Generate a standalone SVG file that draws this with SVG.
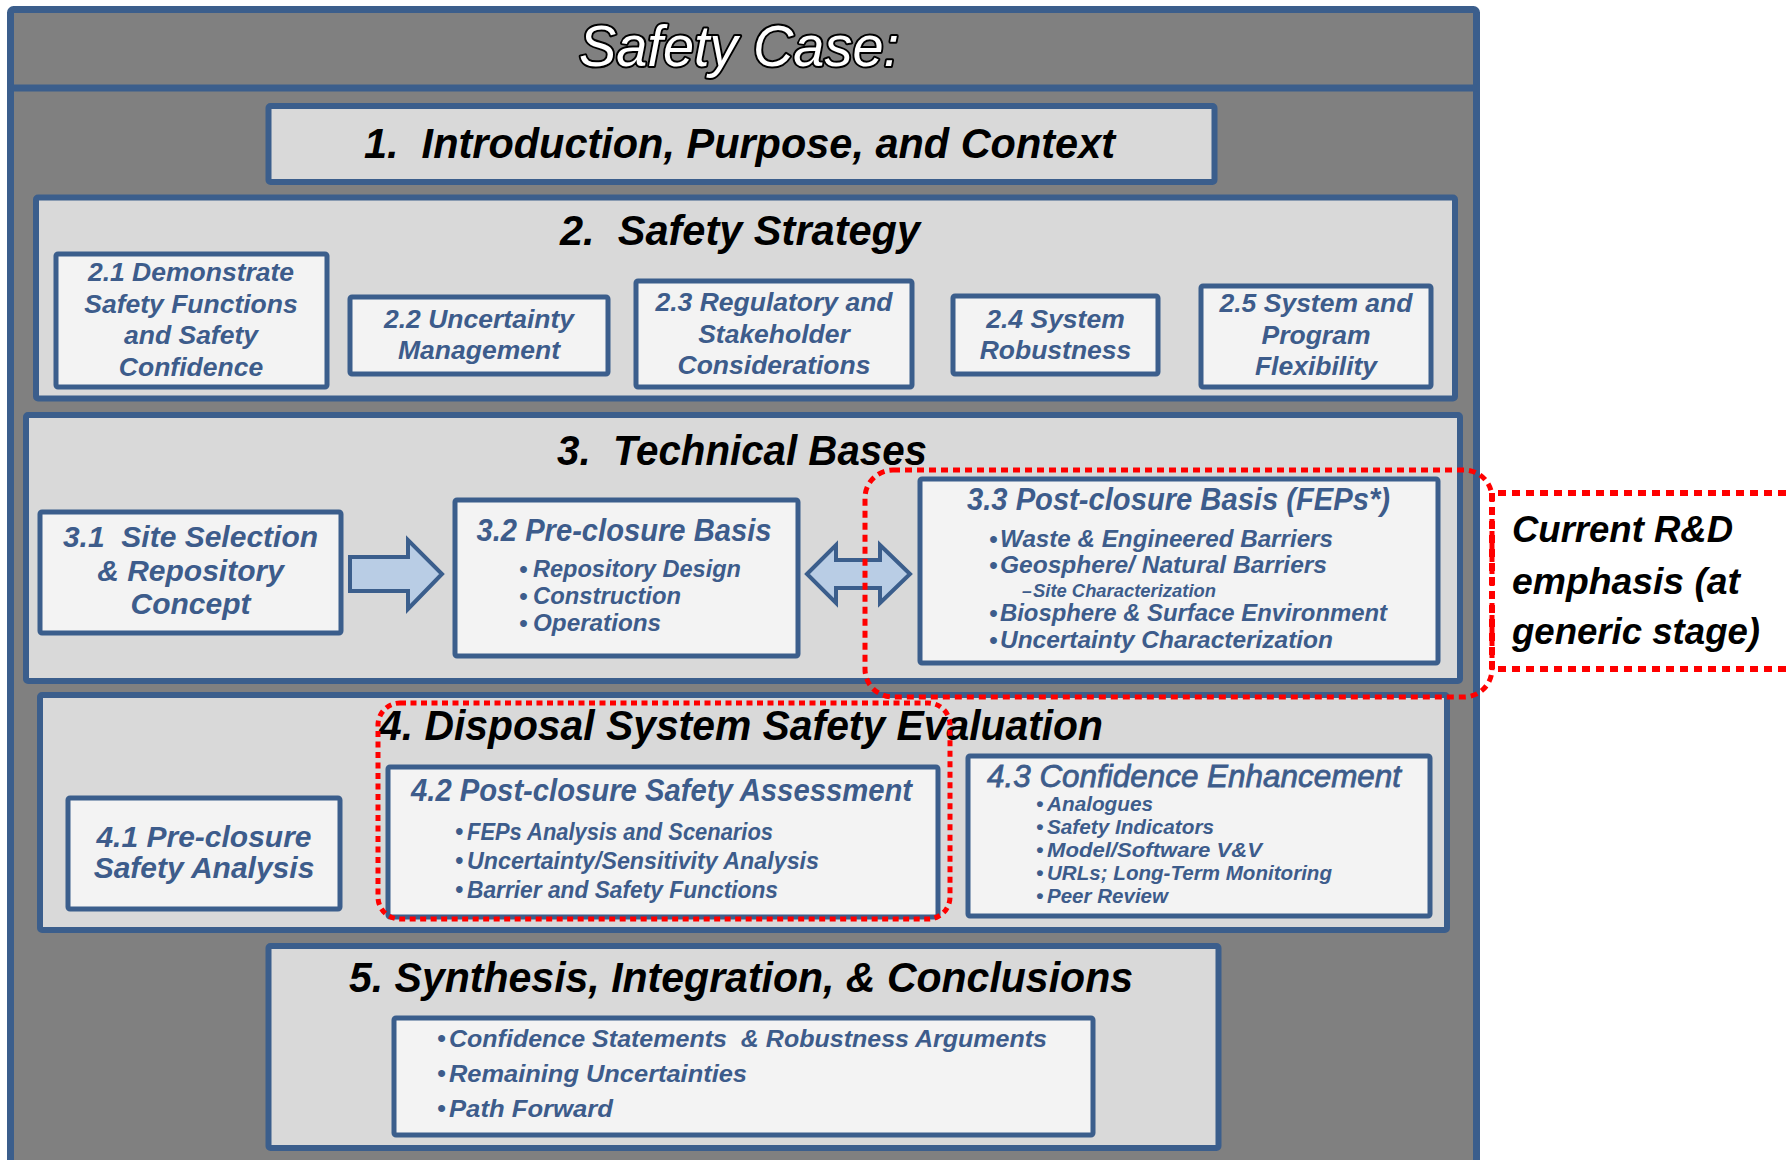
<svg xmlns="http://www.w3.org/2000/svg" width="1791" height="1160" viewBox="0 0 1791 1160">
<style>
.frame{fill:#808080;stroke:#3B5E8C;stroke-width:7}
.sec{fill:#D9D9D9;stroke:#3B5E8C;stroke-width:6}
.box{fill:#F3F3F3;stroke:#3B5E8C;stroke-width:5}
.h{font-family:"Liberation Sans",Arial,sans-serif;font-weight:bold;font-style:italic;fill:#000;font-size:43px}
.b{font-family:"Liberation Sans",Arial,sans-serif;font-weight:bold;font-style:italic;fill:#3D5C8B}
.s26{font-size:26.5px;text-anchor:middle}
.arrow{fill:#B9CDE5;stroke:#3B5E8C;stroke-width:4;stroke-linejoin:miter}
.red{fill:none;stroke:#FF0000;stroke-width:5;stroke-dasharray:7 5}
</style>
<rect x="0" y="0" width="1791" height="1160" fill="#FFFFFF"/>

<g id="frame">
  <rect class="frame" x="10.5" y="9.5" width="1466" height="1170" rx="3"/>
  <line x1="10.5" y1="88" x2="1476.5" y2="88" stroke="#3B5E8C" stroke-width="7"/>
  <text x="579" y="66" textLength="320" lengthAdjust="spacingAndGlyphs" font-family="Liberation Sans, Arial, sans-serif" font-style="italic" font-size="58" fill="#FFFFFF" stroke="#000" stroke-width="4" stroke-linejoin="round" paint-order="stroke">Safety Case:</text>
</g>

<g id="s1">
  <rect class="sec" x="268.5" y="106" width="946" height="76" rx="2"/>
  <text class="h" x="364" y="158" font-size="45" textLength="751" lengthAdjust="spacingAndGlyphs" xml:space="preserve">1.  Introduction, Purpose, and Context</text>
</g>

<g id="s2">
  <rect class="sec" x="36" y="197.5" width="1419" height="201" rx="2"/>
  <text class="h" x="560" y="245" textLength="360" lengthAdjust="spacingAndGlyphs" xml:space="preserve">2.  Safety Strategy</text>
</g>
<g id="n21">
  <rect class="box" x="56" y="254" width="271" height="133" rx="2"/>
  <text class="b s26" x="191" y="281">2.1 Demonstrate</text>
  <text class="b s26" x="191" y="312.5">Safety Functions</text>
  <text class="b s26" x="191" y="344">and Safety</text>
  <text class="b s26" x="191" y="375.5">Confidence</text>
</g>
<g id="n22">
  <rect class="box" x="350" y="297" width="258" height="77" rx="2"/>
  <text class="b s26" x="479" y="328">2.2 Uncertainty</text>
  <text class="b s26" x="479" y="359">Management</text>
</g>
<g id="n23">
  <rect class="box" x="636" y="281" width="276" height="106" rx="2"/>
  <text class="b s26" x="774" y="311">2.3 Regulatory and</text>
  <text class="b s26" x="774" y="342.5">Stakeholder</text>
  <text class="b s26" x="774" y="374">Considerations</text>
</g>
<g id="n24">
  <rect class="box" x="953" y="296" width="205" height="78" rx="2"/>
  <text class="b s26" x="1055.5" y="328">2.4 System</text>
  <text class="b s26" x="1055.5" y="359">Robustness</text>
</g>
<g id="n25">
  <rect class="box" x="1201" y="286" width="230" height="101" rx="2"/>
  <text class="b s26" x="1316" y="312">2.5 System and</text>
  <text class="b s26" x="1316" y="343.5">Program</text>
  <text class="b s26" x="1316" y="375">Flexibility</text>
</g>

<g id="s3">
  <rect class="sec" x="26" y="415" width="1434" height="266" rx="2"/>
  <text class="h" x="557" y="465" textLength="370" lengthAdjust="spacingAndGlyphs" xml:space="preserve">3.  Technical Bases</text>
</g>
<g id="n31">
  <rect class="box" x="40" y="512" width="301" height="121" rx="2"/>
  <text class="b" font-size="30" text-anchor="middle" x="190.5" y="547" xml:space="preserve">3.1  Site Selection</text>
  <text class="b" font-size="30" text-anchor="middle" x="190.5" y="581">&amp; Repository</text>
  <text class="b" font-size="30" text-anchor="middle" x="190.5" y="614">Concept</text>
</g>
<g id="n32">
  <rect class="box" x="455" y="500" width="343" height="156" rx="2"/>
  <text class="b" font-size="30.5" x="476.5" y="541" textLength="295" lengthAdjust="spacingAndGlyphs">3.2 Pre-closure Basis</text>
  <g class="b" font-size="24">
    <text x="519" y="577">•</text><text x="533" y="577" textLength="208" lengthAdjust="spacingAndGlyphs">Repository Design</text>
    <text x="519" y="604">•</text><text x="533" y="604" textLength="148" lengthAdjust="spacingAndGlyphs">Construction</text>
    <text x="519" y="631">•</text><text x="533" y="631" textLength="128" lengthAdjust="spacingAndGlyphs">Operations</text>
  </g>
</g>
<g id="n33">
  <rect class="box" x="920" y="479" width="518" height="184" rx="2"/>
  <text class="b" font-size="30.5" x="967" y="510" textLength="423" lengthAdjust="spacingAndGlyphs">3.3 Post-closure Basis (FEPs*)</text>
  <g class="b" font-size="24">
    <text x="989" y="547">•</text><text x="1000" y="547" textLength="333" lengthAdjust="spacingAndGlyphs">Waste &amp; Engineered Barriers</text>
    <text x="989" y="573">•</text><text x="1000" y="573" textLength="327" lengthAdjust="spacingAndGlyphs">Geosphere/ Natural Barriers</text>
    <text x="1022" y="596.5" font-size="17.5">–</text><text x="1033" y="596.5" font-size="17.5" textLength="183" lengthAdjust="spacingAndGlyphs">Site Characterization</text>
    <text x="989" y="620.5">•</text><text x="1000" y="620.5" textLength="387" lengthAdjust="spacingAndGlyphs">Biosphere &amp; Surface Environment</text>
    <text x="989" y="647.5">•</text><text x="1000" y="647.5" textLength="333" lengthAdjust="spacingAndGlyphs">Uncertainty Characterization</text>
  </g>
</g>

<g id="s4">
  <rect class="sec" x="40" y="695" width="1407" height="235" rx="2"/>
  <text class="h" x="379" y="740" textLength="724" lengthAdjust="spacingAndGlyphs">4. Disposal System Safety Evaluation</text>
</g>
<g id="n41">
  <rect class="box" x="68" y="798" width="272" height="111" rx="2"/>
  <text class="b" font-size="30" text-anchor="middle" x="204" y="847">4.1 Pre-closure</text>
  <text class="b" font-size="30" text-anchor="middle" x="204" y="877.5">Safety Analysis</text>
</g>
<g id="n42">
  <rect class="box" x="388" y="767" width="550" height="150" rx="2"/>
  <text class="b" font-size="30.5" x="411" y="801" textLength="501" lengthAdjust="spacingAndGlyphs">4.2 Post-closure Safety Assessment</text>
  <g class="b" font-size="23">
    <text x="455" y="840">•</text><text x="467" y="840" textLength="306" lengthAdjust="spacingAndGlyphs">FEPs Analysis and Scenarios</text>
    <text x="455" y="868.5">•</text><text x="467" y="868.5" textLength="352" lengthAdjust="spacingAndGlyphs">Uncertainty/Sensitivity Analysis</text>
    <text x="455" y="897.5">•</text><text x="467" y="897.5" textLength="311" lengthAdjust="spacingAndGlyphs">Barrier and Safety Functions</text>
  </g>
</g>
<g id="n43">
  <rect class="box" x="968" y="756" width="462" height="160" rx="2"/>
  <text font-family="Liberation Sans, Arial, sans-serif" font-style="italic" font-size="32" fill="#3D5C8B" stroke="#3D5C8B" stroke-width="0.8" x="987" y="787" textLength="414" lengthAdjust="spacingAndGlyphs">4.3 Confidence Enhancement</text>
  <g class="b" font-size="21">
    <text x="1036" y="811">•</text><text x="1047" y="811" textLength="106" lengthAdjust="spacingAndGlyphs">Analogues</text>
    <text x="1036" y="834">•</text><text x="1047" y="834" textLength="167" lengthAdjust="spacingAndGlyphs">Safety Indicators</text>
    <text x="1036" y="857">•</text><text x="1047" y="857" textLength="215" lengthAdjust="spacingAndGlyphs">Model/Software V&amp;V</text>
    <text x="1036" y="880">•</text><text x="1047" y="880" textLength="285" lengthAdjust="spacingAndGlyphs">URLs; Long-Term Monitoring</text>
    <text x="1036" y="903">•</text><text x="1047" y="903" textLength="121" lengthAdjust="spacingAndGlyphs">Peer Review</text>
  </g>
</g>

<g id="s5">
  <rect class="sec" x="268.5" y="946" width="950" height="202" rx="2"/>
  <text class="h" x="349" y="992" textLength="784" lengthAdjust="spacingAndGlyphs">5. Synthesis, Integration, &amp; Conclusions</text>
</g>
<g id="n5">
  <rect class="box" x="394" y="1018" width="699" height="117" rx="2"/>
  <g class="b" font-size="24.5">
    <text x="437" y="1047">•</text><text x="449" y="1047" textLength="598" lengthAdjust="spacingAndGlyphs" xml:space="preserve">Confidence Statements  &amp; Robustness Arguments</text>
    <text x="437" y="1082">•</text><text x="449" y="1082" textLength="298" lengthAdjust="spacingAndGlyphs">Remaining Uncertainties</text>
    <text x="437" y="1117">•</text><text x="449" y="1117" textLength="164" lengthAdjust="spacingAndGlyphs">Path Forward</text>
  </g>
</g>

<g id="connectors">
  <path class="arrow" d="M350,557 L408,557 L408,540 L442,574 L408,609 L408,591 L350,591 Z"/>
  <path class="arrow" d="M807,574 L836,545 L836,560 L880,560 L880,545 L910,574 L880,603 L880,588 L836,588 L836,603 Z"/>
</g>

<g id="highlights">
  <rect class="red" x="865" y="470" width="627" height="227" rx="28"/>
  <rect class="red" x="378" y="703" width="572" height="216" rx="22" style="stroke-dasharray:6 4.5"/>
</g>

<g id="note">
  <path d="M1800,493 H1492 V669 H1800" fill="none" stroke="#FF0000" stroke-width="6" stroke-dasharray="8 6"/>
  <g font-family="Liberation Sans, Arial, sans-serif" font-weight="bold" font-style="italic" font-size="36" fill="#000">
    <text x="1512" y="542" textLength="221" lengthAdjust="spacingAndGlyphs">Current R&amp;D</text>
    <text x="1512" y="594" textLength="228" lengthAdjust="spacingAndGlyphs">emphasis (at</text>
    <text x="1512" y="644" textLength="248" lengthAdjust="spacingAndGlyphs">generic stage)</text>
  </g>
</g>
</svg>
